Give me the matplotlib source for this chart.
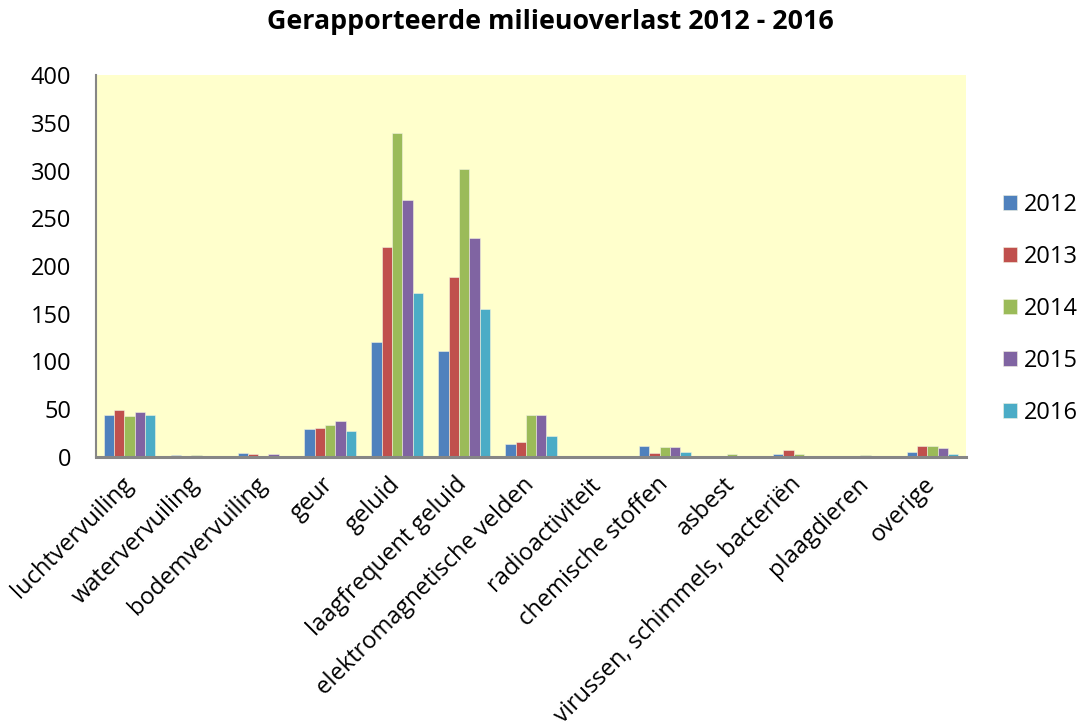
import matplotlib
matplotlib.use("Agg")
import matplotlib.pyplot as plt
import matplotlib.transforms as mtransforms
import numpy as np

categories = ["luchtvervuiling", "watervervuiling", "bodemvervuiling", "geur", "geluid",
              "laagfrequent geluid", "elektromagnetische velden", "radioactiviteit",
              "chemische stoffen", "asbest", "virussen, schimmels, bacteriën",
              "plaagdieren", "overige"]
years = ["2012", "2013", "2014", "2015", "2016"]
v2012 = [44, 2, 4, 29, 120, 111, 14, 1, 12, 0, 3, 0, 5]
v2013 = [49, 1, 3, 30, 220, 189, 16, 0, 4, 0, 7, 0, 11]
v2014 = [43, 2, 1, 34, 339, 302, 44, 0, 10, 3, 3, 2, 11]
v2015 = [47, 1, 3, 38, 269, 229, 44, 0, 10, 0, 1, 0, 9]
v2016 = [44, 0, 1, 27, 172, 155, 22, 0, 5, 0, 0, 0, 3]
series = [v2012, v2013, v2014, v2015, v2016]
colors = ["#4F81BD", "#C0504D", "#9BBB59", "#8064A2", "#4BACC6"]

plt.rcParams['font.family'] = ['Open Sans', 'DejaVu Sans']

W, H = 1084, 725
fig = plt.figure(figsize=(W / 100, H / 100), dpi=100)
L, R, T, B = 96, 966, 75, 457
ax = fig.add_axes([L / W, 1 - B / H, (R - L) / W, (B - T) / H])
ax.set_facecolor("#FFFFCC")

x = np.arange(len(categories))
bw = 0.77 / 5
for i, (vals, c, y) in enumerate(zip(series, colors, years)):
    ax.bar(x + (i - 2) * bw, vals, width=bw, color=c, label=y,
           edgecolor="#F2F2E0", linewidth=0.4)

ax.set_xlim(-0.5, len(categories) - 0.5)
ax.set_ylim(0, 400)
ax.set_yticks(np.arange(0, 401, 50))
ax.tick_params(axis='y', labelsize=17, length=0, pad=18)
ax.set_xticks(x)
ax.set_xticklabels(categories, rotation=45, ha='right', rotation_mode='anchor', fontsize=17)
ax.tick_params(axis='x', length=0, pad=4)
offset = mtransforms.ScaledTranslation(-9 / 100, -10 / 100, fig.dpi_scale_trans)
for lab in ax.get_xticklabels():
    lab.set_transform(lab.get_transform() + offset)
for s in ["top", "right"]:
    ax.spines[s].set_visible(False)
ax.spines["left"].set_color("#868686")
ax.spines["left"].set_linewidth(1.5)
ax.spines["bottom"].set_color("#868686")
ax.spines["bottom"].set_linewidth(2.2)

fig.text(550 / W, 1 - 22 / H, "Gerapporteerde milieuoverlast 2012 - 2016",
         ha='center', va='center', fontsize=19.3, fontweight='bold')

fig.legend(loc='center left', bbox_to_anchor=(1003 / W, 1 - 309 / H), frameon=False,
           fontsize=17, labelspacing=1.18, handlelength=0.6, handleheight=0.6,
           handletextpad=0.3, borderpad=0, borderaxespad=0)

fig.savefig("out.png", dpi=100)
